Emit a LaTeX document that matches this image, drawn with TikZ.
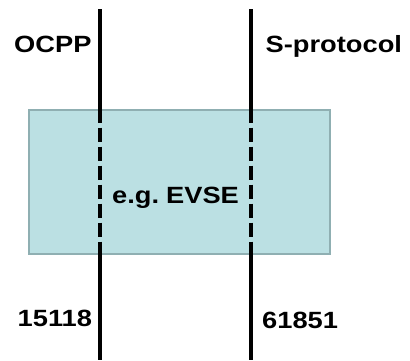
\documentclass[tikz,border=0pt]{standalone}
\usepackage{fontspec}
\setmainfont{Liberation Sans}[FakeStretch=1.16]
\definecolor{boxfill}{HTML}{BBE0E3}
\definecolor{boxline}{HTML}{8FAFB2}
\begin{document}
\begin{tikzpicture}[x=1pt,y=-1pt,
  lbl/.style={inner sep=0pt,font=\fontsize{23.5}{27}\selectfont\bfseries,anchor=base west},
  solidline/.style={line width=4pt},
  dashline/.style={line width=4pt,dash pattern=on 14pt off 5pt}]
\useasboundingbox (0,0) rectangle (410,360);
\node[draw=boxline,fill=boxfill,line width=2pt,minimum width=301pt,minimum height=144pt,inner sep=0pt] (box) at (179,181.5) {};
\coordinate (t1) at (100,9);
\coordinate (b1) at (100,360);
\coordinate (t2) at (251,9);
\coordinate (b2) at (251,360);
\draw[solidline] (t1) -- (t1|-box.north);
\draw[dashline] (t1|-box.north) -- (t1|-box.south);
\draw[solidline] (t1|-box.south) -- (b1);
\draw[solidline] (t2) -- (t2|-box.north);
\draw[dashline] (t2|-box.north) -- (t2|-box.south);
\draw[solidline] (t2|-box.south) -- (b2);
\node[lbl] (ocpp) at (14,52.3) {OCPP};
\node[lbl] (sp) at (265.5,52.3) {S-protocol};
\node[lbl] (evse) at (112,203.5) {e.g.\hspace{7pt}EVSE};
\node[lbl] (n1) at (17.5,326.5) {15118};
\node[lbl] (n2) at (262,328.5) {61851};
\end{tikzpicture}
\end{document}
